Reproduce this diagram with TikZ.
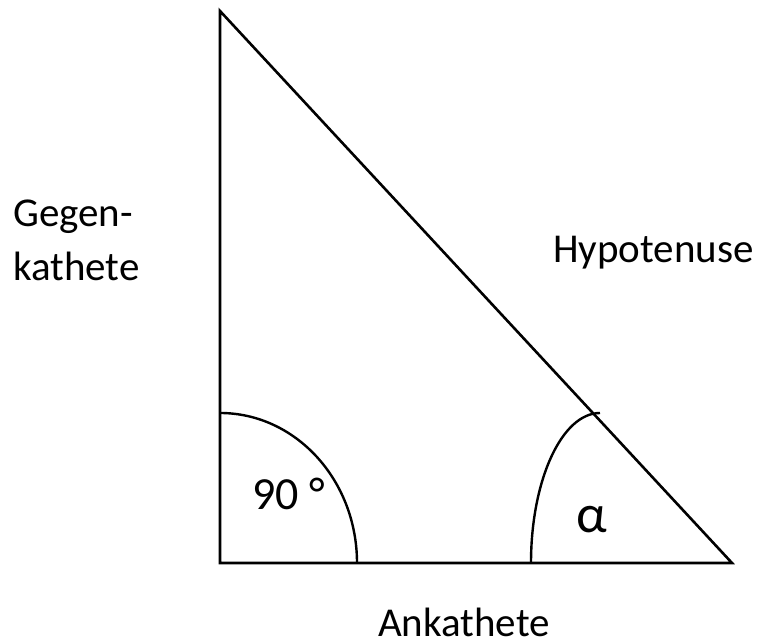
\documentclass[tikz,border=0pt]{standalone}
\usepackage{fontspec}
\setmainfont{Carlito}
\usetikzlibrary{calc}

\tikzset{
	side/.style={line width=2.6pt},
	anglearc/.style={line width=2.4pt},
	lbl/.style={inner sep=0pt, anchor=base west, font=\fontsize{41}{54}\selectfont}
}

\begin{document}
\begin{tikzpicture}[x=1pt, y=1pt]
			%%%%% START %%%%%
			\useasboundingbox (0, 0) rectangle (757, 644);
			
			\coordinate (top) at (220, 633);
			\coordinate (corner) at (220, 81);
			\coordinate (tip) at (732, 81);
			
			\draw[side, line join=miter] (top) -- (corner) -- (tip) -- cycle;
			
			% right angle
			\draw[anglearc] ($(corner)+(0, 150)$) arc (90:0:137 and 150);
			% alpha
			\draw[anglearc] ($(tip)+(-201, 0)$) arc (180:90:69 and 150);
			
			\node[lbl, align=left] (gegen) at (13, 363) {Gegen-\\kathete};
			\node[lbl] (hypo) at (553, 381) {Hypotenuse};
			\node[lbl] (an) at (378, 7) {Ankathete};
			\node[lbl, font=\fontsize{46}{54}\selectfont] (right) at (252, 134) {90 °};
			\node[lbl, font=\fontsize{54}{60}\selectfont] (alpha) at (576, 111) {α};
			
			%%%%% END %%%%%
		\end{tikzpicture}
\end{document}
